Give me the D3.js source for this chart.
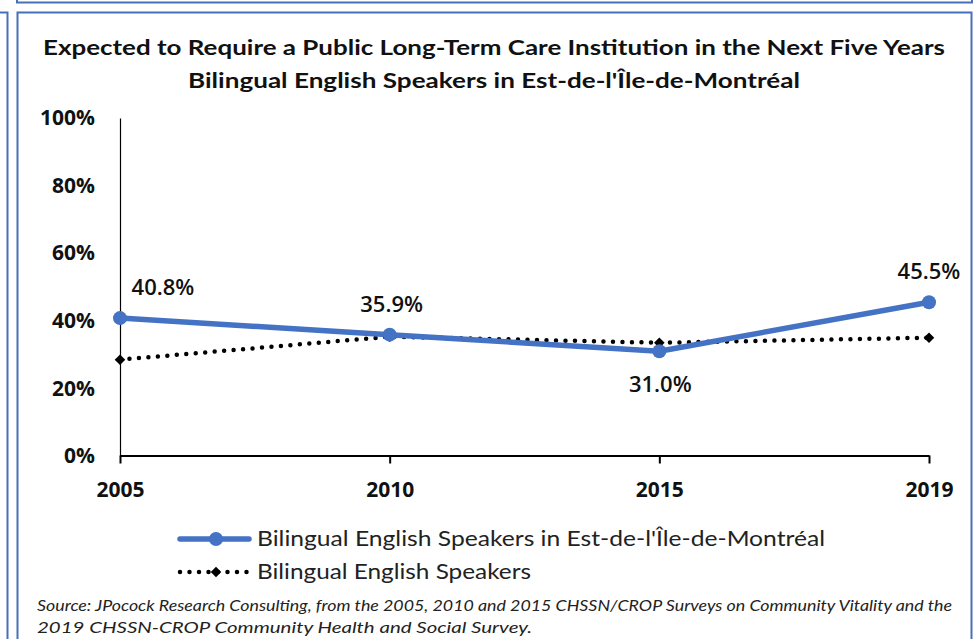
<!DOCTYPE html>
<html>
<head>
<meta charset="utf-8">
<script src="https://cdn.jsdelivr.net/npm/d3@7"></script>
<style>
  html, body { margin: 0; padding: 0; background: #fff; }
  svg { display: block; }
</style>
</head>
<body>
<svg id="chart" width="979" height="639"></svg>
<script>
// ---- data ----
const categories = ["2005", "2010", "2015", "2019"];
const montrealValues = [40.8, 35.9, 31.0, 45.5];
const bilingualValues = [28.5, 35.3, 33.5, 35.0];
const yTickValues = [0, 20, 40, 60, 80, 100];
const seriesNames = [
  "Bilingual English Speakers in Est-de-l'Île-de-Montréal",
  "Bilingual English Speakers"
];
const titleLines = [
  "Expected to Require a Public Long-Term Care Institution in the Next Five Years",
  "Bilingual  English Speakers in Est-de-l'Île-de-Montréal"
];
const sourceLines = [
  "Source: JPocock Research Consulting, from the 2005, 2010  and 2015  CHSSN/CROP Surveys on Community Vitality and the",
  "2019  CHSSN-CROP Community Health and Social Survey."
];

// ---- drawing ----
const svg = d3.select("#chart");
const blue = "#4472C4";
const frame = "#4670b8";

// frame lines (surrounding boxes)
const frameG = svg.append("g").attr("fill", "none").attr("stroke", frame).attr("stroke-width", 2);
frameG.append("path").attr("d", "M17,0 V2.5 H972 V0");
frameG.append("path").attr("d", "M0,12.5 H7.5 V639");
frameG.append("path").attr("d", "M17.5,639 V12.5 H971.5 V639");

const x = d3.scalePoint().domain(categories).range([120, 929]);
const y = d3.scaleLinear().domain([0, 100]).range([456, 118]);

function fitWidth(sel, w) {
  sel.attr("textLength", w).attr("lengthAdjust", "spacingAndGlyphs");
}

// title
const titleWidths = [902, 612];
const titleBase = [55, 88];
titleLines.forEach((t, i) => {
  const el = svg.append("text")
    .attr("x", 494).attr("y", titleBase[i])
    .attr("text-anchor", "middle")
    .attr("font-family", "Lato, 'Open Sans', sans-serif")
    .attr("font-weight", 700)
    .attr("font-size", 21.5)
    .attr("fill", "#111")
    .text(t);
  fitWidth(el, titleWidths[i]);
});

// y axis
const yAxis = d3.axisLeft(y).tickValues(yTickValues).tickSize(0).tickSizeOuter(0)
  .tickPadding(25).tickFormat(d => d + "%");
const yG = svg.append("g").attr("transform", "translate(120,0)").call(yAxis);
yG.select(".domain").attr("stroke", "#000").attr("stroke-width", 1.2);
yG.selectAll("text")
  .attr("font-family", "'Open Sans', sans-serif")
  .attr("font-weight", 700)
  .attr("font-size", 21)
  .attr("fill", "#111");

// x axis
const xAxis = d3.axisBottom(x).tickSize(8).tickSizeOuter(0).tickPadding(19);
const xG = svg.append("g").attr("transform", "translate(0,455.5)").call(xAxis);
xG.select(".domain").attr("stroke", "#000").attr("stroke-width", 2);
xG.selectAll(".tick line").attr("stroke", "#000").attr("stroke-width", 2);
xG.selectAll("text")
  .attr("font-family", "'Open Sans', sans-serif")
  .attr("font-weight", 700)
  .attr("font-size", 21)
  .attr("fill", "#111");

// bilingual (dotted) series
const line = d3.line().x((d, i) => x(categories[i])).y(d => y(d));
svg.append("path").datum(bilingualValues)
  .attr("d", line)
  .attr("fill", "none").attr("stroke", "#000").attr("stroke-width", 4.5)
  .attr("stroke-linecap", "round").attr("stroke-dasharray", "0 9.5");
const diamond = d3.symbol().type(d3.symbolSquare).size(56);
svg.selectAll(".dia").data(bilingualValues).join("path")
  .attr("transform", (d, i) => `translate(${x(categories[i])},${y(d)}) rotate(45)`)
  .attr("d", diamond).attr("fill", "#000");

// montreal (blue) series
svg.append("path").datum(montrealValues)
  .attr("d", line)
  .attr("fill", "none").attr("stroke", blue).attr("stroke-width", 5.5)
  .attr("stroke-linejoin", "round").attr("stroke-linecap", "round");
svg.selectAll(".dot").data(montrealValues).join("circle")
  .attr("cx", (d, i) => x(categories[i])).attr("cy", d => y(d))
  .attr("r", 7).attr("fill", blue);

// data labels
const labelOffsets = [[43, -23], [2, -23], [1, 41], [0, -23]];
svg.selectAll(".lbl").data(montrealValues).join("text")
  .attr("x", (d, i) => x(categories[i]) + labelOffsets[i][0])
  .attr("y", (d, i) => y(d) + labelOffsets[i][1])
  .attr("text-anchor", "middle")
  .attr("font-family", "'Open Sans', sans-serif")
  .attr("font-weight", 600)
  .attr("font-size", 22)
  .attr("fill", "#111")
  .text(d => d.toFixed(1) + "%");

// legend
const legY = [539, 572];
const legText = [568, 274];
const lg = svg.append("g");
lg.append("line").attr("x1", 180).attr("x2", 249).attr("y1", legY[0]).attr("y2", legY[0])
  .attr("stroke", blue).attr("stroke-width", 5.5).attr("stroke-linecap", "round");
lg.append("circle").attr("cx", 216).attr("cy", legY[0]).attr("r", 7).attr("fill", blue);
lg.append("line").attr("x1", 180).attr("x2", 250).attr("y1", legY[1]).attr("y2", legY[1])
  .attr("stroke", "#000").attr("stroke-width", 4.5).attr("stroke-linecap", "round")
  .attr("stroke-dasharray", "0 9.5");
lg.append("path").attr("transform", `translate(216,${legY[1]}) rotate(45)`).attr("d", diamond).attr("fill", "#000");
seriesNames.forEach((n, i) => {
  const el = lg.append("text")
    .attr("x", 257).attr("y", legY[i] + 7)
    .attr("font-family", "Lato, 'Open Sans', sans-serif")
    .attr("font-size", 21.5)
    .attr("fill", "#222")
    .text(n);
  fitWidth(el, legText[i]);
});

// source
const srcW = [915, 495];
const srcBase = [611, 633];
sourceLines.forEach((s, i) => {
  const el = svg.append("text")
    .attr("x", 37).attr("y", srcBase[i])
    .attr("font-family", "Lato, 'Open Sans', sans-serif")
    .attr("font-style", "italic")
    .attr("font-size", 15.5)
    .attr("fill", "#222")
    .text(s);
  fitWidth(el, srcW[i]);
});
</script>
</body>
</html>
